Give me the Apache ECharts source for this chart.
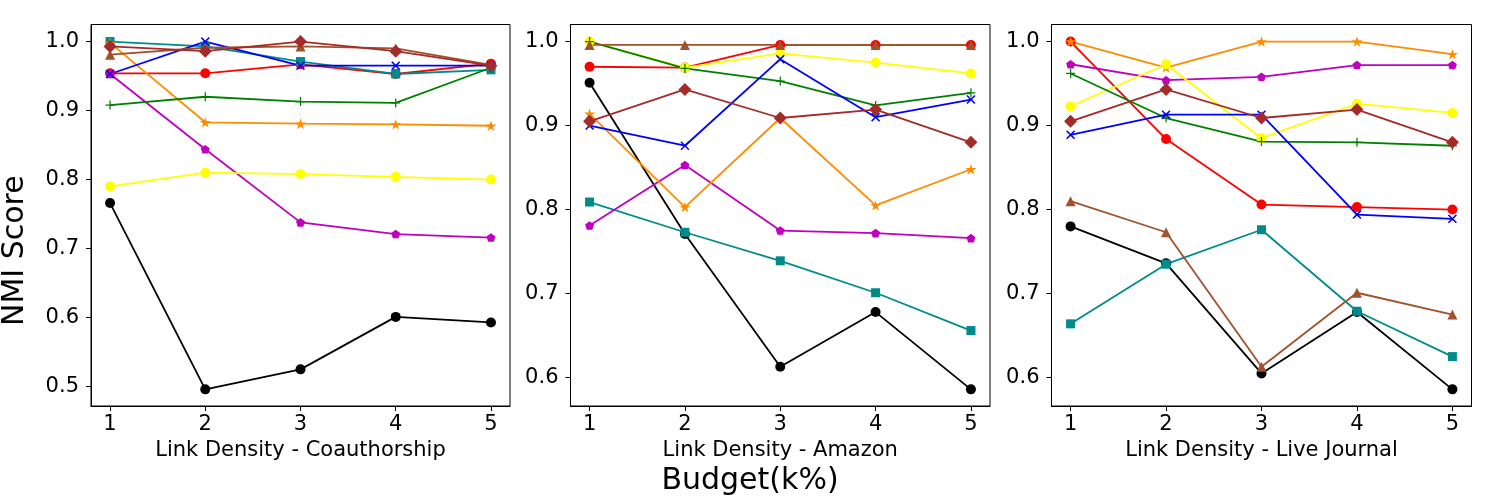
<!DOCTYPE html>
<html>
<head>
<meta charset="utf-8">
<script src="https://cdn.jsdelivr.net/npm/echarts@6/dist/echarts.min.js"></script>
<style>
html,body{margin:0;padding:0;background:#fff;}
#chart{width:1500px;height:500px;}
</style>
</head>
<body>
<div id="chart"></div>
<script>
// ---------- data ----------
const xValues = [1, 2, 3, 4, 5];
const xTicks = [1, 2, 3, 4, 5];
const yTicksCoauthorship = [0.5, 0.6, 0.7, 0.8, 0.9, 1.0];
const yTicksAmazon = [0.6, 0.7, 0.8, 0.9, 1.0];
const yTicksLiveJournal = [0.6, 0.7, 0.8, 0.9, 1.0];
const panelTitles = ['Link Density - Coauthorship', 'Link Density - Amazon', 'Link Density - Live Journal'];
const yAxisTitle = 'NMI Score';
const xAxisTitle = 'Budget(k%)';

// Coauthorship
const coBlack   = [0.766, 0.496, 0.525, 0.601, 0.593];
const coRed     = [0.954, 0.954, 0.967, 0.953, 0.968];
const coTeal    = [1.000, 0.993, 0.971, 0.953, 0.959];
const coMagenta = [0.953, 0.844, 0.738, 0.721, 0.716];
const coOrange  = [0.998, 0.883, 0.881, 0.880, 0.878];
const coYellow  = [0.790, 0.810, 0.808, 0.804, 0.800];
const coGreen   = [0.908, 0.920, 0.913, 0.911, 0.962];
const coBlue    = [0.953, 1.000, 0.965, 0.965, 0.965];
const coSienna  = [0.981, 0.991, 0.993, 0.990, 0.966];
const coBrown   = [0.993, 0.986, 1.000, 0.986, 0.965];

// Amazon
const amBlack   = [0.951, 0.771, 0.613, 0.678, 0.586];
const amRed     = [0.970, 0.969, 0.996, 0.996, 0.996];
const amTeal    = [0.809, 0.773, 0.739, 0.701, 0.656];
const amMagenta = [0.781, 0.853, 0.775, 0.772, 0.766];
const amOrange  = [0.914, 0.803, 0.909, 0.805, 0.848];
const amYellow  = [1.000, 0.969, 0.986, 0.975, 0.962];
const amGreen   = [1.000, 0.968, 0.953, 0.924, 0.939];
const amBlue    = [0.900, 0.876, 0.979, 0.910, 0.931];
const amSienna  = [0.996, 0.996, 0.996, 0.996, 0.996];
const amBrown   = [0.905, 0.943, 0.909, 0.919, 0.880];

// Live Journal
const ljBlack   = [0.780, 0.736, 0.605, 0.678, 0.586];
const ljRed     = [1.000, 0.884, 0.806, 0.803, 0.800];
const ljTeal    = [0.664, 0.735, 0.776, 0.679, 0.625];
const ljMagenta = [0.973, 0.954, 0.958, 0.972, 0.972];
const ljOrange  = [1.000, 0.969, 1.000, 1.000, 0.985];
const ljYellow  = [0.923, 0.973, 0.885, 0.926, 0.915];
const ljGreen   = [0.962, 0.909, 0.881, 0.880, 0.876];
const ljBlue    = [0.889, 0.913, 0.913, 0.794, 0.789];
const ljSienna  = [0.810, 0.773, 0.613, 0.701, 0.675];
const ljBrown   = [0.905, 0.943, 0.909, 0.919, 0.880];

// ---------- styles ----------
const STAR = 'path://M50,0 L61.2,34.5 L97.6,34.5 L68.2,55.9 L79.4,90.5 L50,69.1 L20.6,90.5 L31.8,55.9 L2.4,34.5 L38.8,34.5 Z';
const PENT = 'path://M50,0 L97.6,34.5 L79.4,90.5 L20.6,90.5 L2.4,34.5 Z';
const XMARK = 'path://M1.2,0 L5,3.8 L8.8,0 L10,1.2 L6.2,5 L10,8.8 L8.8,10 L5,6.2 L1.2,10 L0,8.8 L3.8,5 L0,1.2 Z';
const PLUS = 'path://M4.3,0 H5.7 V4.3 H10 V5.7 H5.7 V10 H4.3 V5.7 H0 V4.3 H4.3 Z';

const styleDefs = {
  black:   {color: '#000000', symbol: 'circle',  size: 10, width: 1.8},
  red:     {color: '#ff0000', symbol: 'circle',  size: 10, width: 1.8},
  teal:    {color: '#008b8b', symbol: 'rect',    size: 9,  width: 1.8},
  magenta: {color: '#bf00bf', symbol: PENT,      size: 9,  width: 1.8},
  orange:  {color: '#ff8c00', symbol: STAR,      size: 11, width: 1.8},
  yellow:  {color: '#ffff00', symbol: 'circle',  size: 10, width: 1.8},
  green:   {color: '#008000', symbol: PLUS,      size: 9,  width: 1.8},
  blue:    {color: '#0000ff', symbol: XMARK,     size: 9,  width: 1.8},
  sienna:  {color: '#a0522d', symbol: 'triangle',size: 10, width: 1.8},
  brown:   {color: '#a52a2a', symbol: 'diamond', size: 13, width: 1.8}
};

const panels = [
  {ticks: yTicksCoauthorship, min: 0.4719, max: 1.0247,
   series: {black: coBlack, red: coRed, teal: coTeal, magenta: coMagenta, orange: coOrange,
            yellow: coYellow, green: coGreen, blue: coBlue, sienna: coSienna, brown: coBrown}},
  {ticks: yTicksAmazon, min: 0.5662, max: 1.0203,
   series: {black: amBlack, red: amRed, teal: amTeal, magenta: amMagenta, orange: amOrange,
            yellow: amYellow, green: amGreen, blue: amBlue, sienna: amSienna, brown: amBrown}},
  {ticks: yTicksLiveJournal, min: 0.5662, max: 1.0203,
   series: {black: ljBlack, red: ljRed, teal: ljTeal, magenta: ljMagenta, orange: ljOrange,
            yellow: ljYellow, green: ljGreen, blue: ljBlue, sienna: ljSienna, brown: ljBrown}}
];

const gridBoxes = [
  {left: 91, top: 24.5, width: 419, height: 381.5},
  {left: 570.5, top: 24.5, width: 419.5, height: 381.5},
  {left: 1051.5, top: 24.5, width: 420, height: 381.5}
];

const FONT = 'DejaVu Sans';
const order = ['black', 'red', 'teal', 'magenta', 'orange', 'yellow', 'green', 'blue', 'sienna', 'brown'];

const grid = gridBoxes.map(g => Object.assign({show: true, borderColor: '#000', borderWidth: 1, backgroundColor: 'transparent'}, g));

const xAxis = panels.map((p, i) => ({
  type: 'value', gridIndex: i, min: 0.8, max: 5.2,
  name: panelTitles[i], nameLocation: 'middle', nameGap: 34,
  nameTextStyle: {fontFamily: FONT, fontSize: 21, color: '#000'},
  axisLine: {show: true, onZero: false, lineStyle: {color: '#000', width: 1}},
  axisTick: {show: true, length: 5, inside: false, customValues: xTicks, lineStyle: {color: '#000', width: 1}},
  axisLabel: {show: true, customValues: xTicks, margin: 8, fontFamily: FONT, fontSize: 21, color: '#000',
              formatter: v => String(v)},
  splitLine: {show: false}
}));

const yAxis = panels.map((p, i) => ({
  type: 'value', gridIndex: i, min: p.min, max: p.max,
  axisLine: {show: true, onZero: false, lineStyle: {color: '#000', width: 1}},
  axisTick: {show: true, length: 5, inside: false, customValues: p.ticks, lineStyle: {color: '#000', width: 1}},
  axisLabel: {show: true, customValues: p.ticks, margin: 12, fontFamily: FONT, fontSize: 21, color: '#000',
              formatter: v => Number(v).toFixed(1)},
  splitLine: {show: false}
}));

const series = [];
panels.forEach((p, i) => {
  order.forEach(key => {
    const s = styleDefs[key];
    series.push({
      type: 'line', name: key, xAxisIndex: i, yAxisIndex: i,
      data: xValues.map((x, k) => [x, p.series[key][k]]),
      symbol: s.symbol, symbolSize: s.size, symbolKeepAspect: true, showSymbol: true,
      lineStyle: {color: s.color, width: s.width},
      itemStyle: {color: s.color, borderWidth: 0, opacity: 1},
      emphasis: {disabled: true},
      clip: false
    });
  });
});

const chart = echarts.init(document.getElementById('chart'), null, {renderer: 'canvas'});
chart.setOption({
  animation: false,
  backgroundColor: '#fff',
  grid, xAxis, yAxis, series,
  graphic: [
    {type: 'text', left: 'center', top: 466, style: {text: xAxisTitle, font: '30px "DejaVu Sans"', fill: '#000'}, x: 0},
    {type: 'text', rotation: Math.PI / 2, x: 0, y: 326,
     style: {text: yAxisTitle, font: '30px "DejaVu Sans"', fill: '#000'}}
  ]
});
</script>
</body>
</html>
